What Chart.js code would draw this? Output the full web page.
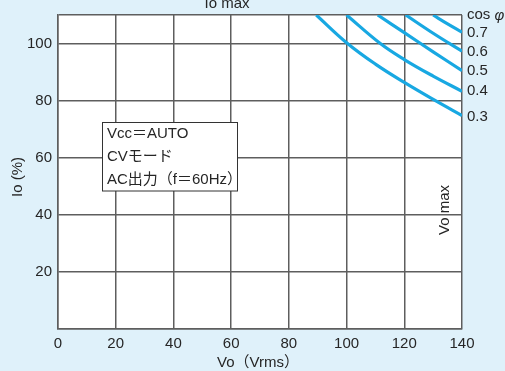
<!DOCTYPE html>
<html>
<head>
<meta charset="utf-8">
<script src="https://cdn.jsdelivr.net/npm/chart.js@4"></script>
<style>
  html, body { margin: 0; padding: 0; background: #dff1fa; }
  #wrap { width: 505px; height: 371px; position: relative; }
</style>
</head>
<body>
<div id="wrap"><canvas id="c" width="505" height="371"></canvas></div>
<script>
// axes
const xTicks = [0, 20, 40, 60, 80, 100, 120, 140];
const yTicks = [20, 40, 60, 80, 100];

// Io max curves for each power factor (Vo in Vrms, Io in %)
const cosLabels = ['0.3', '0.4', '0.5', '0.6', '0.7'];
const vo03 = [89.5, 100, 110, 120, 130.8, 140];
const io03 = [110, 100.3, 92.8, 86.4, 80, 74.8];
const vo04 = [100, 111.7, 120, 130, 140];
const io04 = [110, 100, 94.4, 88.6, 83.3];
const vo05 = [110.8, 120, 130, 140];
const io05 = [110, 103.8, 97.1, 90.5];
const vo06 = [120.5, 130, 140];
const io06 = [110, 103.6, 97.3];
const vo07 = [130, 135, 140];
const io07 = [110, 106.9, 104];

const boxLines = ['Vcc＝AUTO', 'CVモード', 'AC出力（f＝60Hz）'];

const curveColor = '#18a8e2';
const gridColor = '#5e5e5e';
const txtColor = '#262626';
const FONT = '"Liberation Sans", Arial, "Noto Sans CJK JP", sans-serif';

function pts(xs, ys) { return xs.map((x, i) => ({ x: x, y: ys[i] })); }

const curves = [[vo03, io03], [vo04, io04], [vo05, io05], [vo06, io06], [vo07, io07]];

const annotate = {
  id: 'annotate',
  beforeDraw(chart) {
    const a = chart.chartArea, ctx = chart.ctx;
    ctx.save();
    ctx.fillStyle = '#ffffff';
    ctx.fillRect(a.left, a.top, a.right - a.left, a.bottom - a.top);
    ctx.restore();
  },
  afterDraw(chart) {
    const ctx = chart.ctx;
    ctx.save();
    ctx.fillStyle = txtColor;
    ctx.font = '15px ' + FONT;

    // top label
    ctx.textAlign = 'center';
    ctx.textBaseline = 'alphabetic';
    ctx.fillText('Io max', 227, 8);

    // cos phi labels at right end of curves
    ctx.textAlign = 'left';
    ctx.textBaseline = 'middle';
    ctx.fillText('cos ', 467, 15);
    const w = ctx.measureText('cos ').width;
    ctx.font = 'italic 15px ' + FONT;
    ctx.fillText('φ', 467 + w, 16);
    ctx.font = '15px ' + FONT;
    const labelY = [117, 91, 71, 52, 33];
    cosLabels.forEach((t, i) => ctx.fillText(t, 467, labelY[i]));

    // box with conditions
    const bx = 102.5, by = 122.5, bw = 135, bh = 68.5;
    ctx.fillStyle = '#ffffff';
    ctx.fillRect(bx, by, bw, bh);
    ctx.strokeStyle = '#333';
    ctx.lineWidth = 1;
    ctx.strokeRect(bx, by, bw, bh);
    ctx.fillStyle = txtColor;
    ctx.font = '15px ' + FONT;
    boxLines.forEach((t, i) => ctx.fillText(t, 107, 134 + i * 23));

    // Vo max (vertical)
    ctx.save();
    ctx.translate(445, 210);
    ctx.rotate(-Math.PI / 2);
    ctx.textAlign = 'center';
    ctx.fillText('Vo max', 0, 0);
    ctx.restore();

    // axis titles
    ctx.save();
    ctx.translate(18, 177);
    ctx.rotate(-Math.PI / 2);
    ctx.textAlign = 'center';
    ctx.fillText('Io (%)', 0, 0);
    ctx.restore();

    ctx.textAlign = 'center';
    ctx.fillText('Vo（Vrms）', 258, 363);
    ctx.restore();
  }
};

new Chart(document.getElementById('c'), {
  type: 'scatter',
  data: {
    datasets: curves.map((c, i) => ({
      label: 'cos φ ' + cosLabels[i],
      data: pts(c[0], c[1]),
      showLine: true,
      borderColor: curveColor,
      borderWidth: 3.2,
      pointRadius: 0,
      tension: 0.4,
      fill: false
    }))
  },
  options: {
    responsive: false,
    animation: false,
    layout: { padding: { left: 0, top: 15, right: 43, bottom: 0 } },
    plugins: { legend: { display: false }, tooltip: { enabled: false } },
    scales: {
      x: {
        type: 'linear', min: 0, max: 140,
        afterFit(s) { s.height = 42; },
        afterBuildTicks(s) { s.ticks = xTicks.map(v => ({ value: v })); },
        grid: { color: gridColor, lineWidth: 1.5, drawTicks: false },
        border: { color: gridColor, width: 1.5 },
        ticks: { color: txtColor, font: { family: FONT, size: 15 }, padding: 6, autoSkip: false, maxRotation: 0 }
      },
      y: {
        type: 'linear', min: 0, max: 110,
        afterFit(s) { s.width = 58; },
        afterBuildTicks(s) { s.ticks = [0].concat(yTicks, [110]).map(v => ({ value: v })); },
        grid: { color: gridColor, lineWidth: 1.5, drawTicks: false },
        border: { color: gridColor, width: 1.5 },
        ticks: {
          color: txtColor, font: { family: FONT, size: 15 }, padding: 6, autoSkip: false,
          callback: v => yTicks.includes(v) ? String(v) : ''
        }
      }
    }
  },
  plugins: [annotate]
});
</script>
</body>
</html>
